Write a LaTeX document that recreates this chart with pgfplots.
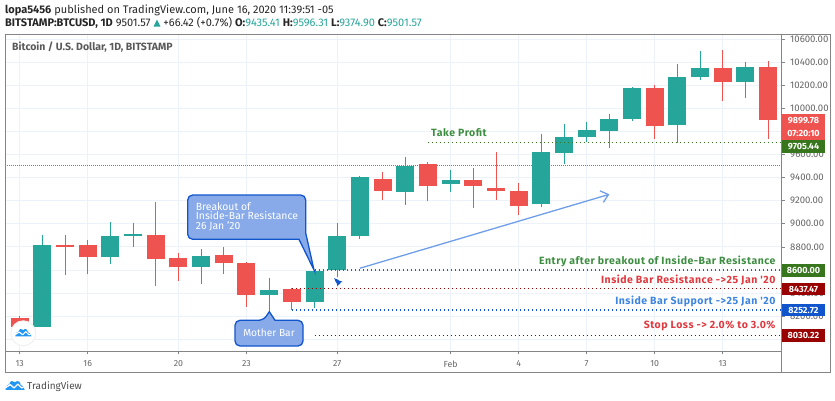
\documentclass[border=0pt]{standalone}
\usepackage{pgfplots}
\usepackage{pgfplotstable}
\pgfplotsset{compat=1.18}
\usepackage{fontspec}
\setmainfont{Fira Sans}
\newfontfamily\lblfont[LetterSpace=5]{Fira Sans}
\usetikzlibrary{arrows.meta}
\definecolor{upc}{HTML}{26A69A}
\definecolor{dnc}{HTML}{EF5350}
\definecolor{gridc}{HTML}{EDF2F8}
\definecolor{framec}{HTML}{858585}
\definecolor{tickc}{HTML}{666666}
\definecolor{tgreen}{HTML}{38761D}
\definecolor{tdred}{HTML}{990000}
\definecolor{tblue}{HTML}{1155CC}
\definecolor{lblred}{HTML}{E0393E}
\definecolor{lblblue}{HTML}{3D85E0}
\definecolor{lblgreen}{HTML}{3E8E41}
\definecolor{tvblue}{HTML}{2196F3}
\definecolor{arrowc}{HTML}{6F9FE8}
\definecolor{callc}{HTML}{7FA3E8}
\pgfplotstableread{
x t b h l
1 8816 8103 8900 8103
4 8897 8712 9018 8655
5 8909 8894 9007 8799
8 8721 8629 8782 8482
11 8424 8381 8534 8239
13 8594 8320 8600 8271
14 8897 8597 9007 8536
15 9405 8894 9417 8871
17 9503 9278 9575 9163
19 9376 9342 9466 9278
23 9619 9168 9775 9142
24 9754 9616 9861 9521
25 9809 9751 9884 9708
26 9904 9806 9948 9659
27 10173 9907 10182 9887
29 10268 9852 10384 9702
30 10346 10271 10499 10245
32 10360 10231 10404 10086
}\upt
\pgfplotstableread{
x t b h l
0 8181 8103 8202 8090
2 8816 8802 8906 8554
3 8816 8712 8860 8565
6 8906 8695 9189 8461
7 8701 8623 8744 8508
9 8730 8658 8799 8568
10 8660 8381 8669 8277
12 8438 8326 8447 8256
16 9388 9284 9446 9206
18 9515 9327 9532 9197
20 9382 9327 9480 9140
21 9310 9284 9619 9209
22 9284 9157 9350 9076
28 10173 9844 10202 9731
31 10346 10225 10505 10066
33 10360 9902 10410 9737
}\dnt
\newcommand{\tagbox}[4]{% y-top, y-bot, colour, text
  \fill[#3] (781.7,#1) rectangle (825,#2);
  \node[text=white,font=\fontsize{9}{10}\selectfont\bfseries,anchor=center,inner sep=0pt] at (803.5,{(#1+#2)/2}) {#4};}
\newcommand{\tvlogo}[3]{% cx cy scale
  \begin{scope}[shift={(#1,#2)},scale=#3]
  \fill[tvblue] (-10,3) -- (-10,1) .. controls (-10,-2) and (-7,-2) .. (-6,-3) .. controls (-5,-7) and (-2,-7) .. (0,-5) .. controls (3,-8) and (6,-5) .. (6,-2) .. controls (9,-2) and (10,0) .. (10,3) -- cycle;
  \draw[white,line width=1.4pt*#3,line join=round] (-10.5,1) -- (-5,-2.5) -- (-1,1) -- (3,-3) -- (7,1) -- (10.5,-1);
  \end{scope}}
\pgfplotsset{lvl/.style={line width=1.4pt,dash pattern=on 1.2pt off 2.8pt}}
\begin{document}
\begin{tikzpicture}
\begin{scope}[x=1pt,y=-1pt]
\path[use as bounding box,fill=white] (0,0) rectangle (835,401);
\end{scope}
\begin{axis}[
  at={(5pt,-351.3pt)},anchor=south west,scale only axis,width=776.7pt,height=317.3pt,
  xmin=-0.648,xmax=33.6,ymin=7896,ymax=10643,
  axis line style={framec,line width=0.9pt},
  xtick={0,3,7,10,14,19,22,25,28,31},
  xticklabels={13,16,20,23,27,Feb,4,7,10,13},
  ytick={8000,8200,...,10600},
  ytick pos=right,xtick pos=bottom,
  yticklabel pos=right,
  yticklabel style={/pgf/number format/fixed,/pgf/number format/fixed zerofill,/pgf/number format/precision=2,/pgf/number format/1000 sep={},/pgf/number format/assume math mode=true,font=\fontsize{9.6}{10}\selectfont,text=tickc,xshift=2pt},
  xticklabel style={font=\fontsize{8.8}{10}\selectfont,text=tickc,yshift=-3pt},
  scaled y ticks=false,
  grid=major,grid style={gridc,line width=0.8pt},
  tick style={framec,line width=0.7pt},
  tick align=outside,major tick length=3pt,
  clip=true,axis on top=false,
]
% wicks
\addplot[draw=none,forget plot,error bars/.cd,y dir=plus,y explicit,error mark=none,error bar style={upc,line width=0.9pt}]
 table[x=x,y=l,y error plus expr=\thisrow{h}-\thisrow{l}]{\upt};
\addplot[draw=none,forget plot,error bars/.cd,y dir=plus,y explicit,error mark=none,error bar style={dnc,line width=0.9pt}]
 table[x=x,y=l,y error plus expr=\thisrow{h}-\thisrow{l}]{\dnt};
% bodies
\addplot[draw=none,forget plot,error bars/.cd,y dir=plus,y explicit,error mark=none,error bar style={upc,line width=18pt}]
 table[x=x,y=b,y error plus expr=\thisrow{t}-\thisrow{b}]{\upt};
\addplot[draw=none,forget plot,error bars/.cd,y dir=plus,y explicit,error mark=none,error bar style={dnc,line width=18pt}]
 table[x=x,y=b,y error plus expr=\thisrow{t}-\thisrow{b}]{\dnt};
% levels
\addplot[upc,line width=0.8pt,dash pattern=on 1pt off 1pt] coordinates {(-0.648,9501.57)(33.6,9501.57)};
\addplot[tgreen,lvl] coordinates {(18,9705.44)(33.6,9705.44)};
\addplot[tgreen,lvl] coordinates {(13,8600)(33.6,8600)};
\addplot[tdred,lvl] coordinates {(12,8437.47)(33.6,8437.47)};
\addplot[tblue,lvl] coordinates {(12,8252.72)(33.6,8252.72)};
\addplot[tdred,lvl] coordinates {(13,8030.22)(33.6,8030.22)};
\addplot[arrowc,line width=1.3pt,-{Straight Barb[length=7pt,width=12pt,line width=1.3pt]}] coordinates {(15,8615)(26,9255)};
\end{axis}
\begin{scope}[x=1pt,y=-1pt]
% outer frame
\draw[framec,line width=0.9pt] (5,34) -- (830,34) -- (830,372) -- (5,372) -- cycle;
\draw[framec,line width=0.9pt] (781.7,34) -- (781.7,372);
% header
\node[anchor=west,inner sep=0pt,text=black!85,font=\fontsize{11}{11}\selectfont] at (5,10) {\textbf{lopa5456} published on TradingView.com, June 16, 2020 11:39:51 -05};
\node[anchor=west,inner sep=0pt,text=black!85,font=\fontsize{11}{11}\selectfont] at (5,23) {\textbf{BITSTAMP:BTCUSD, 1D} 9501.57 \textcolor{upc}{\tikz\fill (0,0)--(7pt,0)--(3.5pt,7pt)--cycle;} +66.42 (+0.7\%) \textbf{O:}\textcolor{upc}{9435.41} \textbf{H:}\textcolor{upc}{9596.31} \textbf{L:}\textcolor{upc}{9374.90} \textbf{C:}\textcolor{upc}{9501.57}};
\node[anchor=west,inner sep=0pt,text=black!65,font=\fontsize{10.5}{11}\selectfont\bfseries] at (12,47) {Bitcoin / U.S. Dollar, 1D, BITSTAMP};
% level labels
\node[anchor=west,inner sep=0pt,text=lblgreen,font=\lblfont\fontsize{10.5}{11}\selectfont\bfseries] at (431,133) {Take Profit};
\node[anchor=east,inner sep=0pt,text=lblgreen,font=\lblfont\fontsize{10.5}{11}\selectfont\bfseries] at (775.7,261) {Entry after breakout of Inside-Bar Resistance};
\node[anchor=east,inner sep=0pt,text=lblred,font=\lblfont\fontsize{10.5}{11}\selectfont\bfseries] at (775.7,279.7) {Inside Bar Resistance ->25 Jan '20};
\node[anchor=east,inner sep=0pt,text=lblblue,font=\lblfont\fontsize{10.5}{11}\selectfont\bfseries] at (775.7,301.3) {Inside Bar Support ->25 Jan '20};
\node[anchor=east,inner sep=0pt,text=lblred,font=\lblfont\fontsize{10.5}{11}\selectfont\bfseries] at (775.7,326.3) {Stop Loss -> 2.0\% to 3.0\%};
% price tags
\tagbox{113.7}{126.7}{dnc}{9899.78}
\tagbox{126.7}{140.3}{dnc}{07:20:10}
\tagbox{140.3}{153.3}{tgreen}{9705.44}
\tagbox{263.7}{276.7}{tgreen}{8600.00}
\tagbox{282.7}{295.3}{tdred}{8437.47}
\tagbox{303.7}{316.3}{tblue}{8252.72}
\tagbox{329}{342}{tdred}{8030.22}
% callouts
\draw[tblue,line width=1.3pt,fill=callc,fill opacity=0.92,rounded corners=5pt]
 (187.7,195) -- (305.7,195) [rounded corners=0pt] -- (305.7,233) -- (314,270) -- (299,239.3) [rounded corners=5pt] -- (187.7,239.3) -- cycle;
\node[anchor=north west,align=left,inner sep=0pt,text=white,font=\fontsize{10.4}{9.3}\selectfont] at (195.7,202.5) {Breakout of\\Inside-Bar Resistance\\26 Jan '20};
\draw[tblue,line width=1.3pt,fill=callc,fill opacity=0.92,rounded corners=5pt]
 (235,320.3) -- (263.5,320.3) [rounded corners=0pt] -- (269.3,311.7) -- (275,320.3) [rounded corners=5pt] -- (303,320.3) -- (303,346) -- (235,346) -- cycle;
\node[inner sep=0pt,text=white,font=\fontsize{10.2}{10}\selectfont] at (269,333) {Mother Bar};
% rocket
\begin{scope}[shift={(337.7,281.7)},rotate=45]
\fill[tblue] (0,-5) .. controls (2.2,-2.5) and (2,1) .. (1.5,3) -- (-1.5,3) .. controls (-2,1) and (-2.2,-2.5) .. (0,-5) -- cycle;
\fill[tblue] (-1.6,0) -- (-3.4,3.2) -- (-1.2,2.6) -- cycle;
\fill[tblue] (1.6,0) -- (3.4,3.2) -- (1.2,2.6) -- cycle;
\end{scope}
% logos
\fill[white,draw=black!6,line width=1pt] (23.3,333.3) circle (12.5);
\tvlogo{23.3}{334}{0.8}
\tvlogo{15}{387}{0.95}
\node[anchor=west,inner sep=0pt,text=black!70,font=\fontsize{10}{10}\selectfont] at (27,386.7) {TradingView};
\end{scope}
\end{tikzpicture}
\end{document}
